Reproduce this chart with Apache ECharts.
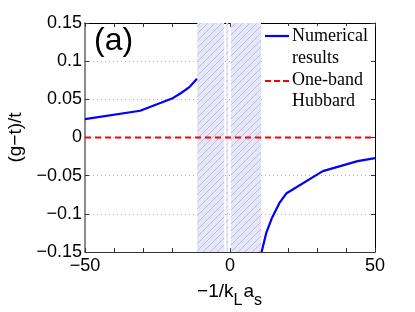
<!DOCTYPE html>
<html><head><meta charset="utf-8">
<script src="https://cdn.jsdelivr.net/npm/echarts@6/dist/echarts.min.js"></script>
<style>html,body{margin:0;padding:0;background:#fff}#c{width:415px;height:312px}</style>
</head><body><div id="c"></div>
<script>
// Data
var numericalLeft = [[-50,0.024],[-31,0.035],[-20,0.051],[-17,0.058],[-14,0.066],[-11.4,0.077]];
var numericalRight = [[10.9,-0.15],[12.5,-0.125],[14.5,-0.105],[17,-0.086],[19.5,-0.073],[32,-0.044],[44,-0.031],[50,-0.027]];
var hubbard = [[-50,0],[50,0]];
var shadedRanges = [[-11.3,-2.0],[-1.3,-0.6],[0.3,10.7]];
var xTickLabels = ['-50','0','50'];
var yTickLabels = ['0.15','0.1','0.05','0','-0.05','-0.1','-0.15'];
var legendNames = [['Numerical','results'],['One-band','Hubbard']];

var cv = document.createElement('canvas');
cv.width = 7; cv.height = 7;
var g = cv.getContext('2d');
g.fillStyle = '#e6e6fa'; g.fillRect(0,0,7,7);
g.strokeStyle = '#a8a8b8'; g.lineWidth = 0.6;
g.beginPath(); g.moveTo(0,7); g.lineTo(7,0); g.stroke();
g.beginPath(); g.moveTo(-1,1); g.lineTo(1,-1); g.stroke();
g.beginPath(); g.moveTo(6,8); g.lineTo(8,6); g.stroke();

function fmt(v){
  var s = String(Math.round(v*1000)/1000);
  return s.replace('-','\u2212');
}
var chart = echarts.init(document.getElementById('c'), null, {renderer:'canvas'});
var sans = 'Liberation Sans';
var serif = 'Liberation Serif';
var BLUE = '#0000ff', RED = '#ff0000';
chart.setOption({
  animation:false,
  backgroundColor:'#fff',
  grid:{left:85,right:40,top:23,bottom:60,containLabel:false,outerBoundsMode:'none'},
  xAxis:[{
    type:'value',min:-50,max:50,interval:10,
    name:'{a|\u22121/k}{b|L}{a|a}{b|s}',nameLocation:'middle',nameGap:22,
    nameTextStyle:{rich:{a:{fontFamily:sans,fontSize:19,color:'#000'},b:{fontFamily:sans,fontSize:16,color:'#000',padding:[19,1,0,0]}}},
    axisLine:{onZero:false,lineStyle:{color:'#333',width:1}},
    axisTick:{inside:true,length:4,lineStyle:{color:'#333'}},
    splitLine:{show:false},
    axisLabel:{fontFamily:sans,fontSize:18,color:'#000',margin:5,
      formatter:function(v){var s=String(v);return xTickLabels.indexOf(s)>=0? s.replace('-','\u2212') : '';}}
  },{
    type:'value',min:-50,max:50,interval:10,position:'top',
    axisLine:{show:true,onZero:false,lineStyle:{color:'#000'}},axisTick:{inside:true,length:4,lineStyle:{color:'#333'}},
    axisLabel:{show:false},splitLine:{show:false}
  }],
  yAxis:[{
    type:'value',min:-0.15,max:0.15,interval:0.05,
    name:'(g\u2212t)/t',nameLocation:'middle',nameGap:58,
    nameTextStyle:{fontFamily:sans,fontSize:19,color:'#000'},
    axisLine:{show:true,onZero:false,lineStyle:{color:'#666',width:1.5}},
    axisTick:{inside:true,length:4,lineStyle:{color:'#333'}},
    splitLine:{show:true,lineStyle:{color:'#b0b0b0',type:[1,3],width:1}},
    axisLabel:{fontFamily:sans,fontSize:18,color:'#000',margin:3,
      formatter:function(v){var s=fmt(v);var t=s.replace('\u2212','-');return yTickLabels.indexOf(t)>=0? s:'';}}
  },{
    type:'value',min:-0.15,max:0.15,interval:0.05,position:'right',
    axisLine:{show:true,onZero:false,lineStyle:{color:'#000'}},axisTick:{inside:true,length:4,lineStyle:{color:'#333'}},
    axisLabel:{show:false},splitLine:{show:false}
  }],
  series:[{
    name:legendNames[0].join(' '),type:'line',data:numericalLeft,symbol:'none',
    lineStyle:{color:BLUE,width:2.2},itemStyle:{color:BLUE},z:5,
    markArea:{silent:true,itemStyle:{color:{image:cv,repeat:'repeat'}},
      data:shadedRanges.map(function(r){return [{xAxis:r[0],yAxis:-0.15},{xAxis:r[1],yAxis:0.15}];})}
  },{
    name:legendNames[0].join(' '),type:'line',data:numericalRight,symbol:'none',
    lineStyle:{color:BLUE,width:2.2},itemStyle:{color:BLUE},z:5
  },{
    name:legendNames[1].join(' '),type:'line',data:hubbard,symbol:'none',
    lineStyle:{color:RED,width:2,type:[6,4]},itemStyle:{color:RED},z:4
  }],
  graphic:[
    {type:'text',left:94,top:25,style:{text:'(a)',fontFamily:sans,fontSize:32,fill:'#000'}},
    {type:'rect',shape:{x:263,y:26,width:108,height:86},style:{fill:'#fff'},z:20},
    {type:'line',shape:{x1:265,y1:36,x2:289,y2:36},style:{stroke:BLUE,lineWidth:2.2},z:21},
    {type:'text',style:{text:legendNames[0].join('\n'),fontFamily:serif,fontSize:18,lineHeight:22,fill:'#000'},z:21,
      top:25,left:292},
    {type:'line',shape:{x1:265,y1:81,x2:289,y2:81},style:{stroke:RED,lineWidth:2,lineDash:[6,3]},z:21},
    {type:'text',style:{text:legendNames[1].join('\n'),fontFamily:serif,fontSize:18,lineHeight:21,fill:'#000'},z:21,
      top:70,left:292}
  ]
});
</script></body></html>
